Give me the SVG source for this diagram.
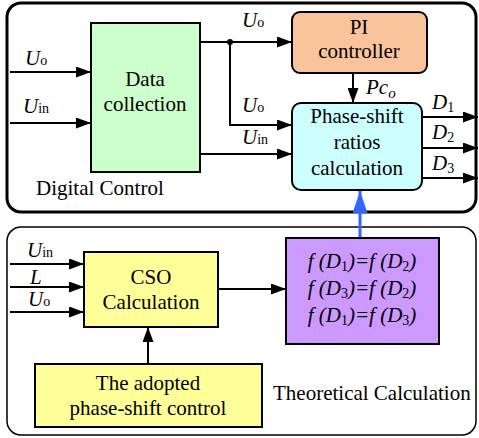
<svg xmlns="http://www.w3.org/2000/svg" width="479" height="438" viewBox="0 0 479 438" font-family="'Liberation Serif', 'DejaVu Serif', serif">
<defs>
<marker id="ah" markerWidth="15" markerHeight="11" refX="15" refY="5.5" orient="auto" markerUnits="userSpaceOnUse"><path d="M0,0 L15,5.5 L0,11 Z" fill="#000"/></marker>
<marker id="bh" markerWidth="22" markerHeight="15" refX="22" refY="7.5" orient="auto" markerUnits="userSpaceOnUse"><path d="M0,0 L22,7.5 L0,15 Z" fill="#3366ff"/></marker>
</defs>
<style>
text{font-family:'Liberation Serif','DejaVu Serif',serif;font-size:21px;fill:#000}
.c{text-anchor:middle}
.i{font-style:italic}
.sub{font-size:14px;font-style:normal}
.box{stroke:#000;stroke-width:2}
.ln{fill:none;stroke:#000;stroke-width:2}
.frame{fill:none;stroke:#000}
</style>
<rect class="frame" x="7" y="3" width="469" height="209" rx="14" stroke-width="3"/>
<rect class="frame" x="7" y="227" width="469" height="208" rx="14" stroke-width="1.5"/>
<text x="36" y="195" font-size="20">Digital Control</text>
<text x="273" y="400">Theoretical Calculation</text>
<g id="connectors">
<line class="ln" x1="10" y1="72" x2="91" y2="72" marker-end="url(#ah)"/>
<line class="ln" x1="10" y1="123" x2="91" y2="123" marker-end="url(#ah)"/>
<line class="ln" x1="200" y1="42" x2="292" y2="42" marker-end="url(#ah)"/>
<circle cx="230" cy="42" r="3" fill="#000"/>
<polyline class="ln" points="230,42 230,125 292,125" marker-end="url(#ah)"/>
<line class="ln" x1="200" y1="154" x2="292" y2="154" marker-end="url(#ah)"/>
<line class="ln" x1="353" y1="73" x2="353" y2="103" marker-end="url(#ah)"/>
<line class="ln" x1="422" y1="117" x2="478" y2="117" marker-end="url(#ah)"/>
<line class="ln" x1="422" y1="148" x2="478" y2="148" marker-end="url(#ah)"/>
<line class="ln" x1="422" y1="178" x2="478" y2="178" marker-end="url(#ah)"/>
<line x1="360" y1="240" x2="360" y2="191" stroke="#3366ff" stroke-width="3" marker-end="url(#bh)"/>
<line class="ln" x1="10" y1="264" x2="84" y2="264" marker-end="url(#ah)"/>
<line class="ln" x1="10" y1="287" x2="84" y2="287" marker-end="url(#ah)"/>
<line class="ln" x1="10" y1="312" x2="84" y2="312" marker-end="url(#ah)"/>
<line class="ln" x1="218" y1="289" x2="286" y2="289" marker-end="url(#ah)"/>
<line class="ln" x1="148" y1="364" x2="148" y2="327" marker-end="url(#ah)"/>
<text x="25" y="65" class="i">U<tspan class="sub">o</tspan></text>
<text x="23" y="113" class="i">U<tspan class="sub">in</tspan></text>
<text x="242" y="27" class="i">U<tspan class="sub">o</tspan></text>
<text x="242" y="112" class="i">U<tspan class="sub">o</tspan></text>
<text x="242" y="144" class="i">U<tspan class="sub">in</tspan></text>
<text x="366" y="94" class="i">Pc<tspan font-size="15" dy="4">o</tspan></text>
<text x="432" y="109" class="i">D<tspan class="sub" dy="3">1</tspan></text>
<text x="432" y="139" class="i">D<tspan class="sub" dy="3">2</tspan></text>
<text x="432" y="170" class="i">D<tspan class="sub" dy="3">3</tspan></text>
<text x="27" y="257" class="i">U<tspan class="sub">in</tspan></text>
<text x="30" y="284" class="i">L</text>
<text x="28" y="306" class="i">U<tspan class="sub">o</tspan></text>
</g>
<g id="data-collection">
<rect class="box" x="91" y="23" width="109" height="149" fill="#ccffcc"/>
<text class="c" x="145" y="86">Data</text>
<text class="c" x="145" y="111">collection</text>
</g>
<g id="pi-controller">
<rect class="box" x="292" y="12" width="135" height="61" rx="8" fill="#f9c39b"/>
<text class="c" x="359" y="34">PI</text>
<text class="c" x="359" y="58">controller</text>
</g>
<g id="phase-shift">
<rect class="box" x="292" y="103" width="130" height="87" rx="9" fill="#ccffff"/>
<text class="c" x="357" y="123">Phase-shift</text>
<text class="c" x="357" y="149">ratios</text>
<text class="c" x="357" y="175">calculation</text>
</g>
<g id="cso">
<rect class="box" x="84" y="252" width="134" height="75" fill="#ffff99"/>
<text class="c" x="151" y="284">CSO</text>
<text class="c" x="151" y="309">Calculation</text>
</g>
<g id="adopted">
<rect class="box" x="35" y="364" width="227" height="63" fill="#ffff99"/>
<text class="c" x="148" y="390">The adopted</text>
<text class="c" x="148" y="415">phase-shift control</text>
</g>
<g id="equations">
<rect class="box" x="286" y="238" width="153" height="106" fill="#cc99ff"/>
<text class="c i" x="362" y="268">f (D<tspan class="sub" dy="3">1</tspan><tspan dy="-3">)=f (D</tspan><tspan class="sub" dy="3">2</tspan><tspan dy="-3">)</tspan></text>
<text class="c i" x="362" y="295">f (D<tspan class="sub" dy="3">3</tspan><tspan dy="-3">)=f (D</tspan><tspan class="sub" dy="3">2</tspan><tspan dy="-3">)</tspan></text>
<text class="c i" x="362" y="322">f (D<tspan class="sub" dy="3">1</tspan><tspan dy="-3">)=f (D</tspan><tspan class="sub" dy="3">3</tspan><tspan dy="-3">)</tspan></text>
</g>
</svg>
